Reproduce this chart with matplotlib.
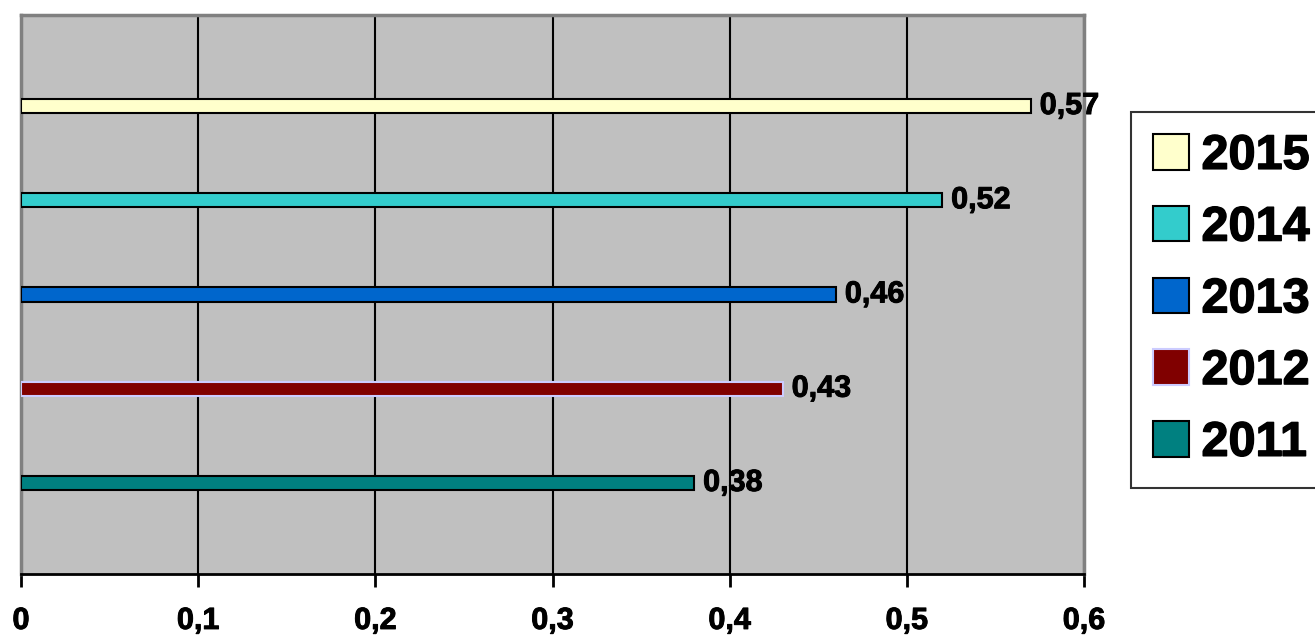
import matplotlib.pyplot as plt
import matplotlib.patheffects as pe
from matplotlib.patches import Patch

years = ['2011', '2012', '2013', '2014', '2015']
values = [0.38, 0.43, 0.46, 0.52, 0.57]
colors = ['#008080', '#800000', '#0066cc', '#33cccc', '#ffffcc']
edges = ['black', '#ccccff', 'black', 'black', 'black']

plt.rcParams['font.family'] = ['Liberation Sans', 'DejaVu Sans']
plt.rcParams['font.weight'] = 'bold'
# slight stroke to get an Arial Bold look
bold = [pe.withStroke(linewidth=0.7, foreground='black')]

fig = plt.figure(figsize=(13.15, 6.37), dpi=100)
ax = fig.add_axes([21 / 1315, 1 - 574 / 637, (1084 - 21) / 1315, (574 - 15) / 637])
ax.set_facecolor('#c0c0c0')

pos = list(range(len(years)))
ax.barh(pos, values, height=0.15, color=colors, edgecolor=edges, linewidth=1.5, zorder=3)
for p, v in zip(pos, values):
    ax.text(v + 0.005, p, f'{v:.2f}'.replace('.', ','), va='center', ha='left',
            fontsize=22, fontweight='bold', zorder=4, path_effects=bold)

ax.set_xlim(0, 0.6)
ax.set_ylim(-0.966, 4.966)
ticks = [0, 0.1, 0.2, 0.3, 0.4, 0.5, 0.6]
ax.set_xticks(ticks)
ax.set_xticklabels([('%g' % t).replace('.', ',') for t in ticks], fontsize=22, fontweight='bold')
for t in ax.get_xticklabels():
    t.set_path_effects(bold)
ax.set_yticks([])
ax.xaxis.grid(True, color='black', linewidth=1.5, zorder=1)
ax.tick_params(axis='x', length=9, width=2, pad=14, color='black')
for s in ['left', 'top', 'right']:
    ax.spines[s].set_color('#808080')
    ax.spines[s].set_linewidth(2.5)
ax.spines['bottom'].set_color('black')
ax.spines['bottom'].set_linewidth(2)

handles = [Patch(facecolor=c, edgecolor=e, linewidth=1.5) for c, e in zip(colors, edges)]
leg = fig.legend(handles[::-1], years[::-1], loc='upper left',
                 bbox_to_anchor=(1131 / 1315, 1 - 112 / 637),
                 prop={'size': 35, 'weight': 'bold'}, frameon=True, fancybox=False,
                 edgecolor='black', handlelength=0.75, handleheight=0.75,
                 handletextpad=0.25, labelspacing=0.55, borderpad=0.45, borderaxespad=0)
leg.get_frame().set_linewidth(1.5)
for t in leg.get_texts():
    t.set_path_effects([pe.withStroke(linewidth=1.0, foreground='black')])

fig.savefig('out.png', dpi=100)
